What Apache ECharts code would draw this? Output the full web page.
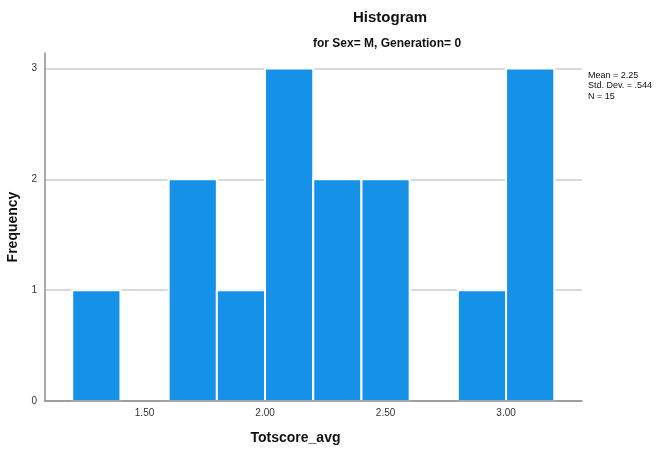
<!DOCTYPE html>
<html>
<head>
<meta charset="utf-8">
<script src="https://cdn.jsdelivr.net/npm/echarts@6/dist/echarts.min.js"></script>
<style>
  html, body { margin: 0; padding: 0; background: #ffffff; }
  #chart { width: 662px; height: 453px; }
</style>
</head>
<body>
<div id="chart"></div>
<script>
// Histogram bins of Totscore_avg (lower edge, upper edge) and their counts
const binStarts = [1.2, 1.4, 1.6, 1.8, 2.0, 2.2, 2.4, 2.6, 2.8, 3.0];
const binEnds   = [1.4, 1.6, 1.8, 2.0, 2.2, 2.4, 2.6, 2.8, 3.0, 3.2];
const counts    = [1, 0, 2, 1, 3, 2, 2, 0, 1, 3];

// Tick labels
const xTicks = [1.5, 2.0, 2.5, 3.0];
const yTicks = [0, 1, 2, 3];

// Summary statistics
const statLines = ['Mean = 2.25', 'Std. Dev. = .544', 'N = 15'];

const FONT = '"Liberation Sans", Arial, sans-serif';

const chart = echarts.init(document.getElementById('chart'), null, { renderer: 'canvas' });

const barData = binStarts.map((s, i) => [s, binEnds[i], counts[i]]);

chart.setOption({
  animation: false,
  backgroundColor: '#ffffff',
  title: [
    {
      text: 'Histogram',
      left: 348, top: 5,
      textStyle: { fontFamily: FONT, fontSize: 15, fontWeight: 'bold', color: '#111' }
    },
    {
      text: 'for Sex= M, Generation= 0',
      left: 308, top: 33,
      textStyle: { fontFamily: FONT, fontSize: 12, fontWeight: 'bold', color: '#111' }
    }
  ],
  grid: { left: 45, right: 80, top: 53, bottom: 52, containLabel: false, outerBoundsMode: 'none' },
  xAxis: {
    type: 'value',
    min: 1.087, max: 3.315,
    z: 10,
    name: 'Totscore_avg',
    nameLocation: 'middle',
    nameGap: 30,
    nameTextStyle: { fontFamily: FONT, fontSize: 14, fontWeight: 'bold', color: '#111', padding: [0, 36, 0, 0] },
    axisLine: { show: true, lineStyle: { color: '#8c8c8c', width: 1.5 } },
    axisTick: { show: false, customValues: xTicks },
    splitLine: { show: false },
    axisLabel: {
      customValues: xTicks,
      margin: 7,
      fontFamily: FONT, fontSize: 10, color: '#333',
      formatter: v => Number(v).toFixed(2)
    }
  },
  yAxis: {
    type: 'value',
    min: 0, max: 3.14,
    z: 0,
    name: 'Frequency',
    nameLocation: 'middle',
    nameGap: 24,
    nameRotate: 90,
    nameTextStyle: { fontFamily: FONT, fontSize: 14, fontWeight: 'bold', color: '#111' },
    axisLine: { show: true, lineStyle: { color: '#8c8c8c', width: 1.5 } },
    axisTick: { show: false, customValues: yTicks },
    splitLine: { show: true, lineStyle: { color: '#cccccc', width: 1.5 } },
    axisLabel: {
      customValues: yTicks,
      margin: 8,
      fontFamily: FONT, fontSize: 10, color: '#333'
    }
  },
  graphic: [
    {
      type: 'text',
      left: 588, top: 70,
      style: {
        text: statLines.join('\n'),
        font: '9px ' + FONT,
        lineHeight: 10.5,
        fill: '#111'
      }
    }
  ],
  series: [
    {
      type: 'custom',
      z: 2,
      data: barData,
      encode: { x: [0, 1], y: 2 },
      renderItem: function (params, api) {
        const h = api.value(2);
        if (!h) return null;
        const p0 = api.coord([api.value(0), h]);
        const p1 = api.coord([api.value(1), 0]);
        return {
          type: 'rect',
          shape: { x: p0[0], y: p0[1], width: p1[0] - p0[0], height: p1[1] - p0[1] },
          style: { fill: '#1591e8', stroke: '#ffffff', lineWidth: 2 }
        };
      }
    }
  ]
});
</script>
</body>
</html>
